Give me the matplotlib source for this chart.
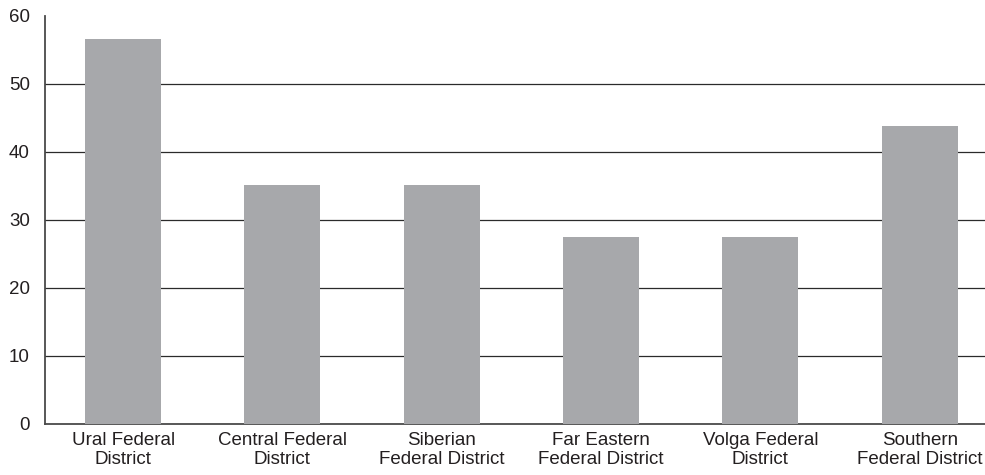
import matplotlib.pyplot as plt

plt.rcParams['font.family'] = ['Liberation Sans', 'DejaVu Sans']

districts = ['Ural Federal\nDistrict', 'Central Federal\nDistrict', 'Siberian\nFederal District',
             'Far Eastern\nFederal District', 'Volga Federal\nDistrict', 'Southern\nFederal District']
values = [56.6, 35.1, 35.1, 27.5, 27.5, 43.8]
yticks = [0, 10, 20, 30, 40, 50, 60]

fig = plt.figure(figsize=(9.85, 4.75), dpi=100)
ax = fig.add_axes([45 / 985, 51 / 475, 940 / 985, 408 / 475])

x = list(range(len(values)))
ax.bar(x, values, width=0.477, color='#a7a8ab', zorder=3)

for t in yticks[1:-1]:
    ax.axhline(t, color='#2b2b2b', lw=0.9, zorder=1)

ax.set_xlim(-0.49, 5.41)
ax.set_ylim(0, 60)
ax.set_yticks(yticks)
ax.set_xticks(x)
ax.set_xticklabels(districts, fontsize=13.5, color='#231f20', linespacing=1.12)
ax.tick_params(axis='y', length=0, pad=11, labelsize=13.5, labelcolor='#231f20')
ax.tick_params(axis='x', length=0, pad=6)

for s in ['top', 'right']:
    ax.spines[s].set_visible(False)
for s in ['left', 'bottom']:
    ax.spines[s].set_color('#4a4a4a')
    ax.spines[s].set_linewidth(1.3)

fig.savefig('out.png', dpi=100)
